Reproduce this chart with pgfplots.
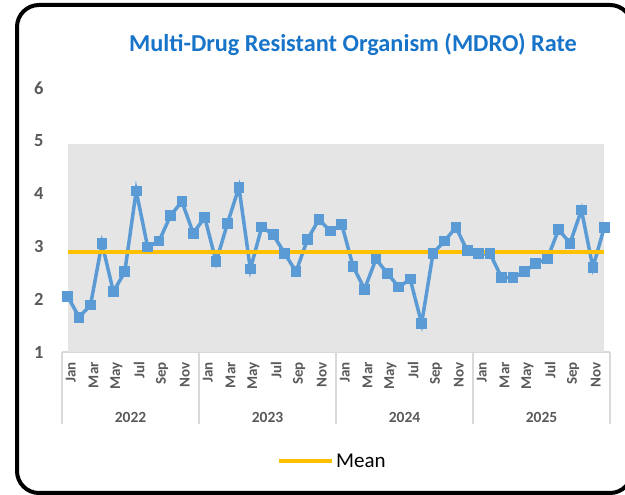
\documentclass[border=0pt]{standalone}
\usepackage{fontspec}
\setmainfont{Carlito}
\usepackage{pgfplots}
\pgfplotsset{compat=1.18}
\definecolor{lineblue}{HTML}{5B9BD5}
\definecolor{meanorange}{HTML}{FFC000}
\definecolor{plotgray}{HTML}{E5E5E5}
\definecolor{labelgray}{HTML}{595959}
\definecolor{axisgray}{HTML}{D9D9D9}
\definecolor{titleblue}{HTML}{1874C8}
\begin{document}
\begin{tikzpicture}
\useasboundingbox (0,0) rectangle (625bp,495bp);
\begin{scope}
\clip (0,0) rectangle (625bp,495bp);
\draw[line width=4bp, rounded corners=22bp] (17bp,2bp) rectangle (632bp,490bp);
\end{scope}
\node[font=\bfseries\fontsize{24.3bp}{27bp}\selectfont, text=titleblue] at (353bp,450bp) {Multi-Drug Resistant Organism (MDRO) Rate};
\begin{axis}[
  at={(62bp,143bp)}, anchor=south west,
  scale only axis, width=548bp, height=264bp,
  xmin=-0.5, xmax=47.5, ymin=1, ymax=6,
  clip=false,
  axis x line*=bottom, axis y line*=left,
  x axis line style={draw=axisgray, line width=1.3bp, -},
  y axis line style={draw=none},
  xtick={0,2,...,46},
  xticklabels={Jan,Mar,May,Jul,Sep,Nov,Jan,Mar,May,Jul,Sep,Nov,Jan,Mar,May,Jul,Sep,Nov,Jan,Mar,May,Jul,Sep,Nov},
  xtick style={draw=none}, ytick style={draw=none},
  major tick length=0pt,
  xticklabel style={xshift=3bp, yshift=-10bp, rotate=90, anchor=east, font=\bfseries\fontsize{15bp}{17bp}\selectfont, text=labelgray, inner sep=0pt},
  ytick={1,2,3,4,5,6},
  yticklabel style={xshift=-15bp, font=\bfseries\fontsize{18.5bp}{20bp}\selectfont, text=labelgray},
  /pgf/number format/assume math mode=true,
  legend style={at={(0.4936,-0.413)}, anchor=center, draw=none, fill=none, font=\fontsize{21bp}{23bp}\selectfont},
  legend image code/.code={\draw[#1] (0bp,0bp) -- (53bp,0bp);},
]
\addplot[fill=plotgray, draw=none, forget plot] coordinates {(0,1) (0,4.94) (47,4.94) (47,1)};
\addplot[color=lineblue, line width=3.5bp, mark=square*, mark size=3.6bp, mark options={solid}, forget plot] coordinates {
(0,2.05) (1,1.66) (2,1.89) (3,3.06) (4,2.14) (5,2.52) (6,4.05) (7,2.99) (8,3.10) (9,3.58) (10,3.85) (11,3.25)
(12,3.55) (13,2.71) (14,3.44) (15,4.12) (16,2.57) (17,3.37) (18,3.22) (19,2.87) (20,2.52) (21,3.13) (22,3.51) (23,3.29)
(24,3.42) (25,2.62) (26,2.19) (27,2.76) (28,2.49) (29,2.23) (30,2.38) (31,1.54) (32,2.87) (33,3.10) (34,3.36) (35,2.92)
(36,2.86) (37,2.86) (38,2.41) (39,2.41) (40,2.52) (41,2.68) (42,2.76) (43,3.32) (44,3.06) (45,3.69) (46,2.60) (47,3.36)
};
\addplot[color=meanorange, line width=4bp, mark=none] coordinates {(0,2.89) (47,2.89)};
\addlegendentry{Mean}
\pgfplotsinvokeforeach{-0.5,11.5,23.5,35.5,47.5}{
  \draw[axisgray, line width=1.3bp] (axis cs:#1,1) -- ([yshift=-72bp]axis cs:#1,1);
}
\node[font=\bfseries\fontsize{15.5bp}{17bp}\selectfont, text=labelgray] at ([yshift=-65bp]axis cs:5.5,1) {2022};
\node[font=\bfseries\fontsize{15.5bp}{17bp}\selectfont, text=labelgray] at ([yshift=-65bp]axis cs:17.5,1) {2023};
\node[font=\bfseries\fontsize{15.5bp}{17bp}\selectfont, text=labelgray] at ([yshift=-65bp]axis cs:29.5,1) {2024};
\node[font=\bfseries\fontsize{15.5bp}{17bp}\selectfont, text=labelgray] at ([yshift=-65bp]axis cs:41.5,1) {2025};
\end{axis}
\end{tikzpicture}
\end{document}
